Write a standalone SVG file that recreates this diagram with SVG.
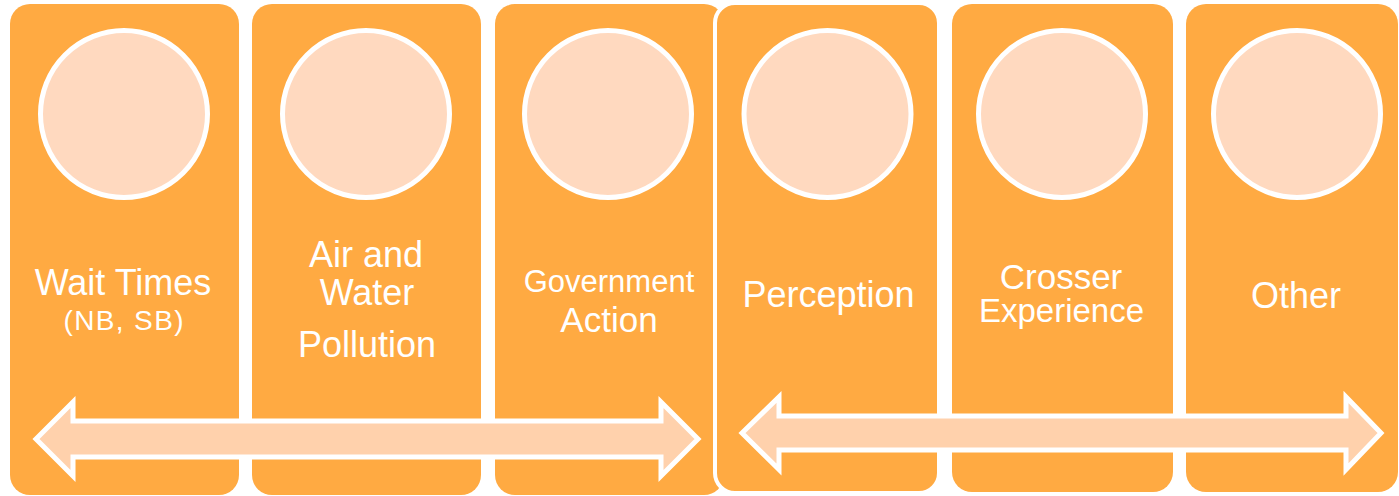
<svg xmlns="http://www.w3.org/2000/svg" width="1399" height="496" viewBox="0 0 1399 496">
<style>
.card{fill:#FFAA42;}
.card2{fill:#FFAA42;stroke:#FFFFFF;stroke-width:4;}
.circ{fill:#FFD9BF;stroke:#FFFFFF;stroke-width:5;}
.lbl{font-family:"Liberation Sans",Arial,sans-serif;fill:#FFFFFF;text-anchor:middle;}
.arrow{fill:#FFD1AC;stroke:#FFFFFF;stroke-width:5;stroke-linejoin:miter;}
</style>
<rect width="1399" height="496" fill="#FFFFFF"/>
<g id="nodes">
<g id="wait-times">
<rect class="card" x="10" y="4" width="229" height="491" rx="20"/>
<circle class="circ" cx="124" cy="114" r="83.5"/>
<text class="lbl" x="123" y="295" font-size="36">Wait Times</text>
<text class="lbl" x="123.5" y="330" font-size="28" textLength="120" lengthAdjust="spacing">(NB, SB)</text>
</g>
<g id="pollution">
<rect class="card" x="252" y="4" width="229" height="491" rx="20"/>
<circle class="circ" cx="366" cy="114" r="83.5"/>
<text class="lbl" x="366" y="267" font-size="36">Air and</text>
<text class="lbl" x="367" y="305" font-size="36">Water</text>
<text class="lbl" x="367" y="357" font-size="36">Pollution</text>
</g>
<g id="government">
<rect class="card" x="495" y="4" width="229" height="491" rx="20"/>
<circle class="circ" cx="608" cy="114" r="83.5"/>
<text class="lbl" x="609" y="292" font-size="31">Government</text>
<text class="lbl" x="609" y="332" font-size="35">Action</text>
</g>
<g id="perception">
<rect class="card2" x="715" y="3" width="224" height="490" rx="20"/>
<circle class="circ" cx="827.5" cy="114" r="83.5"/>
<text class="lbl" x="828.5" y="307" font-size="36">Perception</text>
</g>
<g id="crosser">
<rect class="card" x="952" y="4" width="221" height="488" rx="20"/>
<circle class="circ" cx="1062" cy="114" r="83.5"/>
<text class="lbl" x="1061" y="289" font-size="35">Crosser</text>
<text class="lbl" x="1061.5" y="322" font-size="33">Experience</text>
</g>
<g id="other">
<rect class="card" x="1186" y="4" width="212" height="488" rx="20"/>
<circle class="circ" cx="1297" cy="114" r="83.5"/>
<text class="lbl" x="1296" y="308" font-size="36">Other</text>
</g>
</g>
<g id="connectors">
<path class="arrow" d="M36,439 L73,402 L73,421 L661,421 L661,402 L698,439 L661,476 L661,457 L73,457 L73,476 Z"/>
<path class="arrow" d="M742,433 L779,397 L779,416 L1346,416 L1346,397 L1381,433 L1346,469.5 L1346,450 L779,450 L779,469.5 Z"/>
</g>
</svg>
